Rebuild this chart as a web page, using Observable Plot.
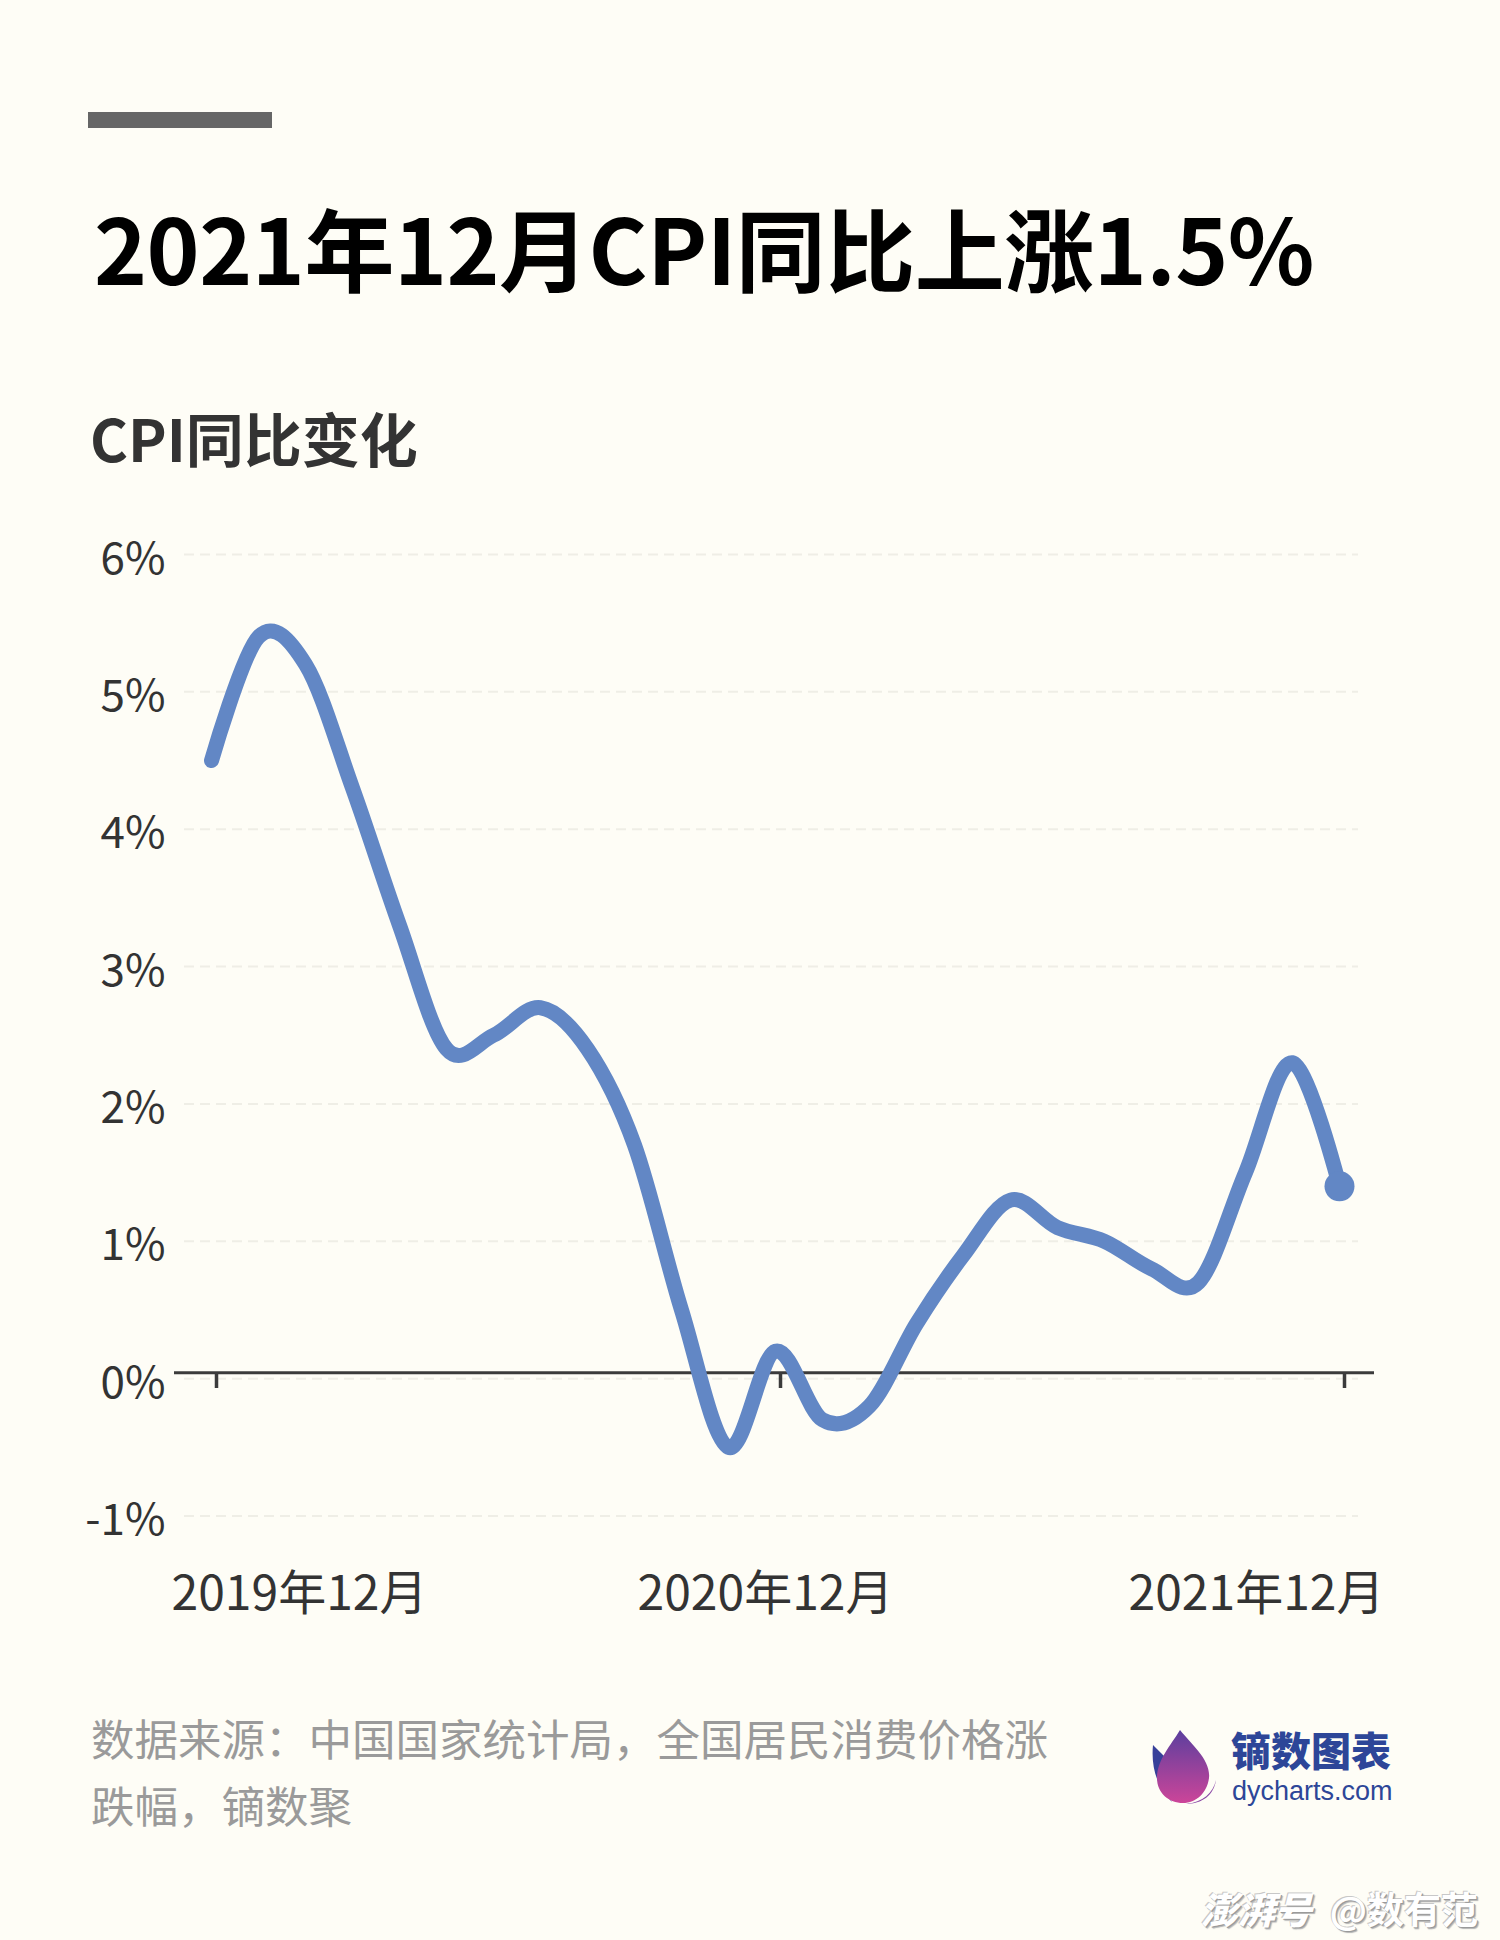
<!DOCTYPE html>
<html>
<head>
<meta charset="utf-8">
<script src="https://cdn.jsdelivr.net/npm/d3@7"></script>
<script src="https://cdn.jsdelivr.net/npm/@observablehq/plot@0.6"></script>
<style>
  html, body { margin: 0; padding: 0; background: #fefdf6; }
  #page { position: relative; width: 1500px; height: 1940px; background: #fefdf6; overflow: hidden;
          font-family: "Noto Sans CJK SC", "Noto Sans", sans-serif; }
  #bar { position: absolute; left: 88px; top: 112px; width: 184px; height: 16px; background: #666666; }
  #title { position: absolute; left: 94px; top: 201px; font-size: 90px; line-height: 1; font-weight: 700;
           color: #000; white-space: nowrap; letter-spacing: -0.5px; }
  #subtitle { position: absolute; left: 90px; top: 408px; font-size: 58px; line-height: 1; font-weight: 700;
              color: #333; white-space: nowrap; }
  #chart { position: absolute; left: 0; top: 480px; }
  #source { position: absolute; left: 91px; top: 1704px; width: 975px; font-size: 43.5px; line-height: 67px;
            color: #9a9a9a; }
  #logo { position: absolute; left: 1150px; top: 1730px; }
  #brand { position: absolute; left: 1231px; top: 1729px; font-size: 40px; line-height: 1; font-weight: 900;
           color: #2d4698; white-space: nowrap; }
  #brandurl { position: absolute; left: 1232px; top: 1778px; font-family: "Liberation Sans", Arial, sans-serif;
              font-size: 27px; line-height: 1; color: #2d4698; white-space: nowrap; }
  #watermark { position: absolute; right: 22px; top: 1890px; font-size: 37px; line-height: 1; color: #ffffff;
               white-space: nowrap; font-weight: 700;
               text-shadow: 1px 1px 0 #9a9a9a, 2px 2px 1px #b5b5b5, -1px -1px 0 #c8c8c8; }
  #watermark .pp { font-style: italic; font-weight: 900; margin-right: 18px; }
</style>
</head>
<body>
<div id="page">
  <div id="bar"></div>
  <div id="title">2021年12月CPI同比上涨1.5%</div>
  <div id="subtitle">CPI同比变化</div>
  <div id="chart"></div>
  <div id="source">数据来源：中国国家统计局，全国居民消费价格涨跌幅，镝数聚</div>
  <svg id="logo" width="72" height="78" viewBox="0 0 72 78">
    <defs>
      <linearGradient id="g1" x1="0" y1="0" x2="0" y2="1">
        <stop offset="0" stop-color="#5b3f9e"/>
        <stop offset="1" stop-color="#cc4599"/>
      </linearGradient>
    </defs>
    <path d="M3,15 C1,36 6,56 22,72 C13,56 11,38 15,27 Z" fill="#37409a"/>
    <path d="M30,0 C42,15 61,30 59,48 C57,63 46,73 33,73 C19,73 7,63 7,48 C7,30 21,15 30,0 Z" fill="url(#g1)"/>
    <path d="M66,50 C63,63 53,72 36,74 C52,74 64,65 66,50 Z" fill="#8a47a6"/>
  </svg>
  <div id="brand">镝数图表</div>
  <div id="brandurl">dycharts.com</div>
  <div id="watermark"><span class="pp">澎湃号</span>@数有范</div>
</div>
<script>
const months = [
  "2019年12月",
  "2020年1月", "2020年2月", "2020年3月", "2020年4月", "2020年5月", "2020年6月",
  "2020年7月", "2020年8月", "2020年9月", "2020年10月", "2020年11月", "2020年12月",
  "2021年1月", "2021年2月", "2021年3月", "2021年4月", "2021年5月", "2021年6月",
  "2021年7月", "2021年8月", "2021年9月", "2021年10月", "2021年11月", "2021年12月"
];
const cpi = [
  4.5,
  5.4, 5.2, 4.3, 3.3, 2.4, 2.5,
  2.7, 2.4, 1.7, 0.5, -0.5, 0.2,
  -0.3, -0.2, 0.4, 0.9, 1.3, 1.1,
  1.0, 0.8, 0.7, 1.5, 2.3, 1.4
];
const yTicks = [-1, 0, 1, 2, 3, 4, 5, 6];
const xTickMonths = ["2019年12月", "2020年12月", "2021年12月"];

const data = months.map((m, i) => ({month: m, value: cpi[i]}));
const lineColor = "#6287c5";
const font = '"Noto Sans CJK SC", "Noto Sans", sans-serif';

const chart = Plot.plot({
  width: 1500,
  height: 1180,
  marginLeft: 208,
  marginRight: 158,
  marginTop: 74,
  marginBottom: 144.5,
  x: {type: "point", domain: months, padding: 0},
  y: {domain: [-1, 6]},
  style: {background: "transparent", fontFamily: font, overflow: "visible"},
  marks: [
    Plot.ruleY(yTicks, {stroke: "#efeee6", strokeWidth: 2, strokeDasharray: "10,6", insetLeft: -24, insetRight: -16}),
    Plot.axisY({ticks: yTicks, tickFormat: d => d + "%", tickSize: 0, tickPadding: 43, dy: 5,
                fontSize: 44, color: "#333", label: null}),
    Plot.ruleY([0], {stroke: "#3b3b3b", strokeWidth: 3, insetLeft: -34, insetRight: -32, dy: -6}),
    Plot.axisX({ticks: xTickMonths, tickFormat: () => "", tickSize: 16, dx: 5, dy: -143.5,
                stroke: "#3b3b3b", strokeWidth: 3.5, label: null}),
    Plot.axisX({ticks: [xTickMonths[0]], tickSize: 0, tickPadding: 60, dx: 88, fontSize: 48, color: "#333", label: null}),
    Plot.axisX({ticks: [xTickMonths[1]], tickSize: 0, tickPadding: 60, dx: -10, fontSize: 48, color: "#333", label: null}),
    Plot.axisX({ticks: [xTickMonths[2]], tickSize: 0, tickPadding: 60, dx: -83, fontSize: 48, color: "#333", label: null}),
    Plot.line(data, {x: "month", y: "value", stroke: lineColor, strokeWidth: 15, curve: "cardinal",
                     strokeLinecap: "round", strokeLinejoin: "round"}),
    Plot.dot([data[data.length - 1]], {x: "month", y: "value", r: 15, fill: lineColor, stroke: "none"})
  ]
});
document.getElementById("chart").appendChild(chart);
</script>
</body>
</html>
